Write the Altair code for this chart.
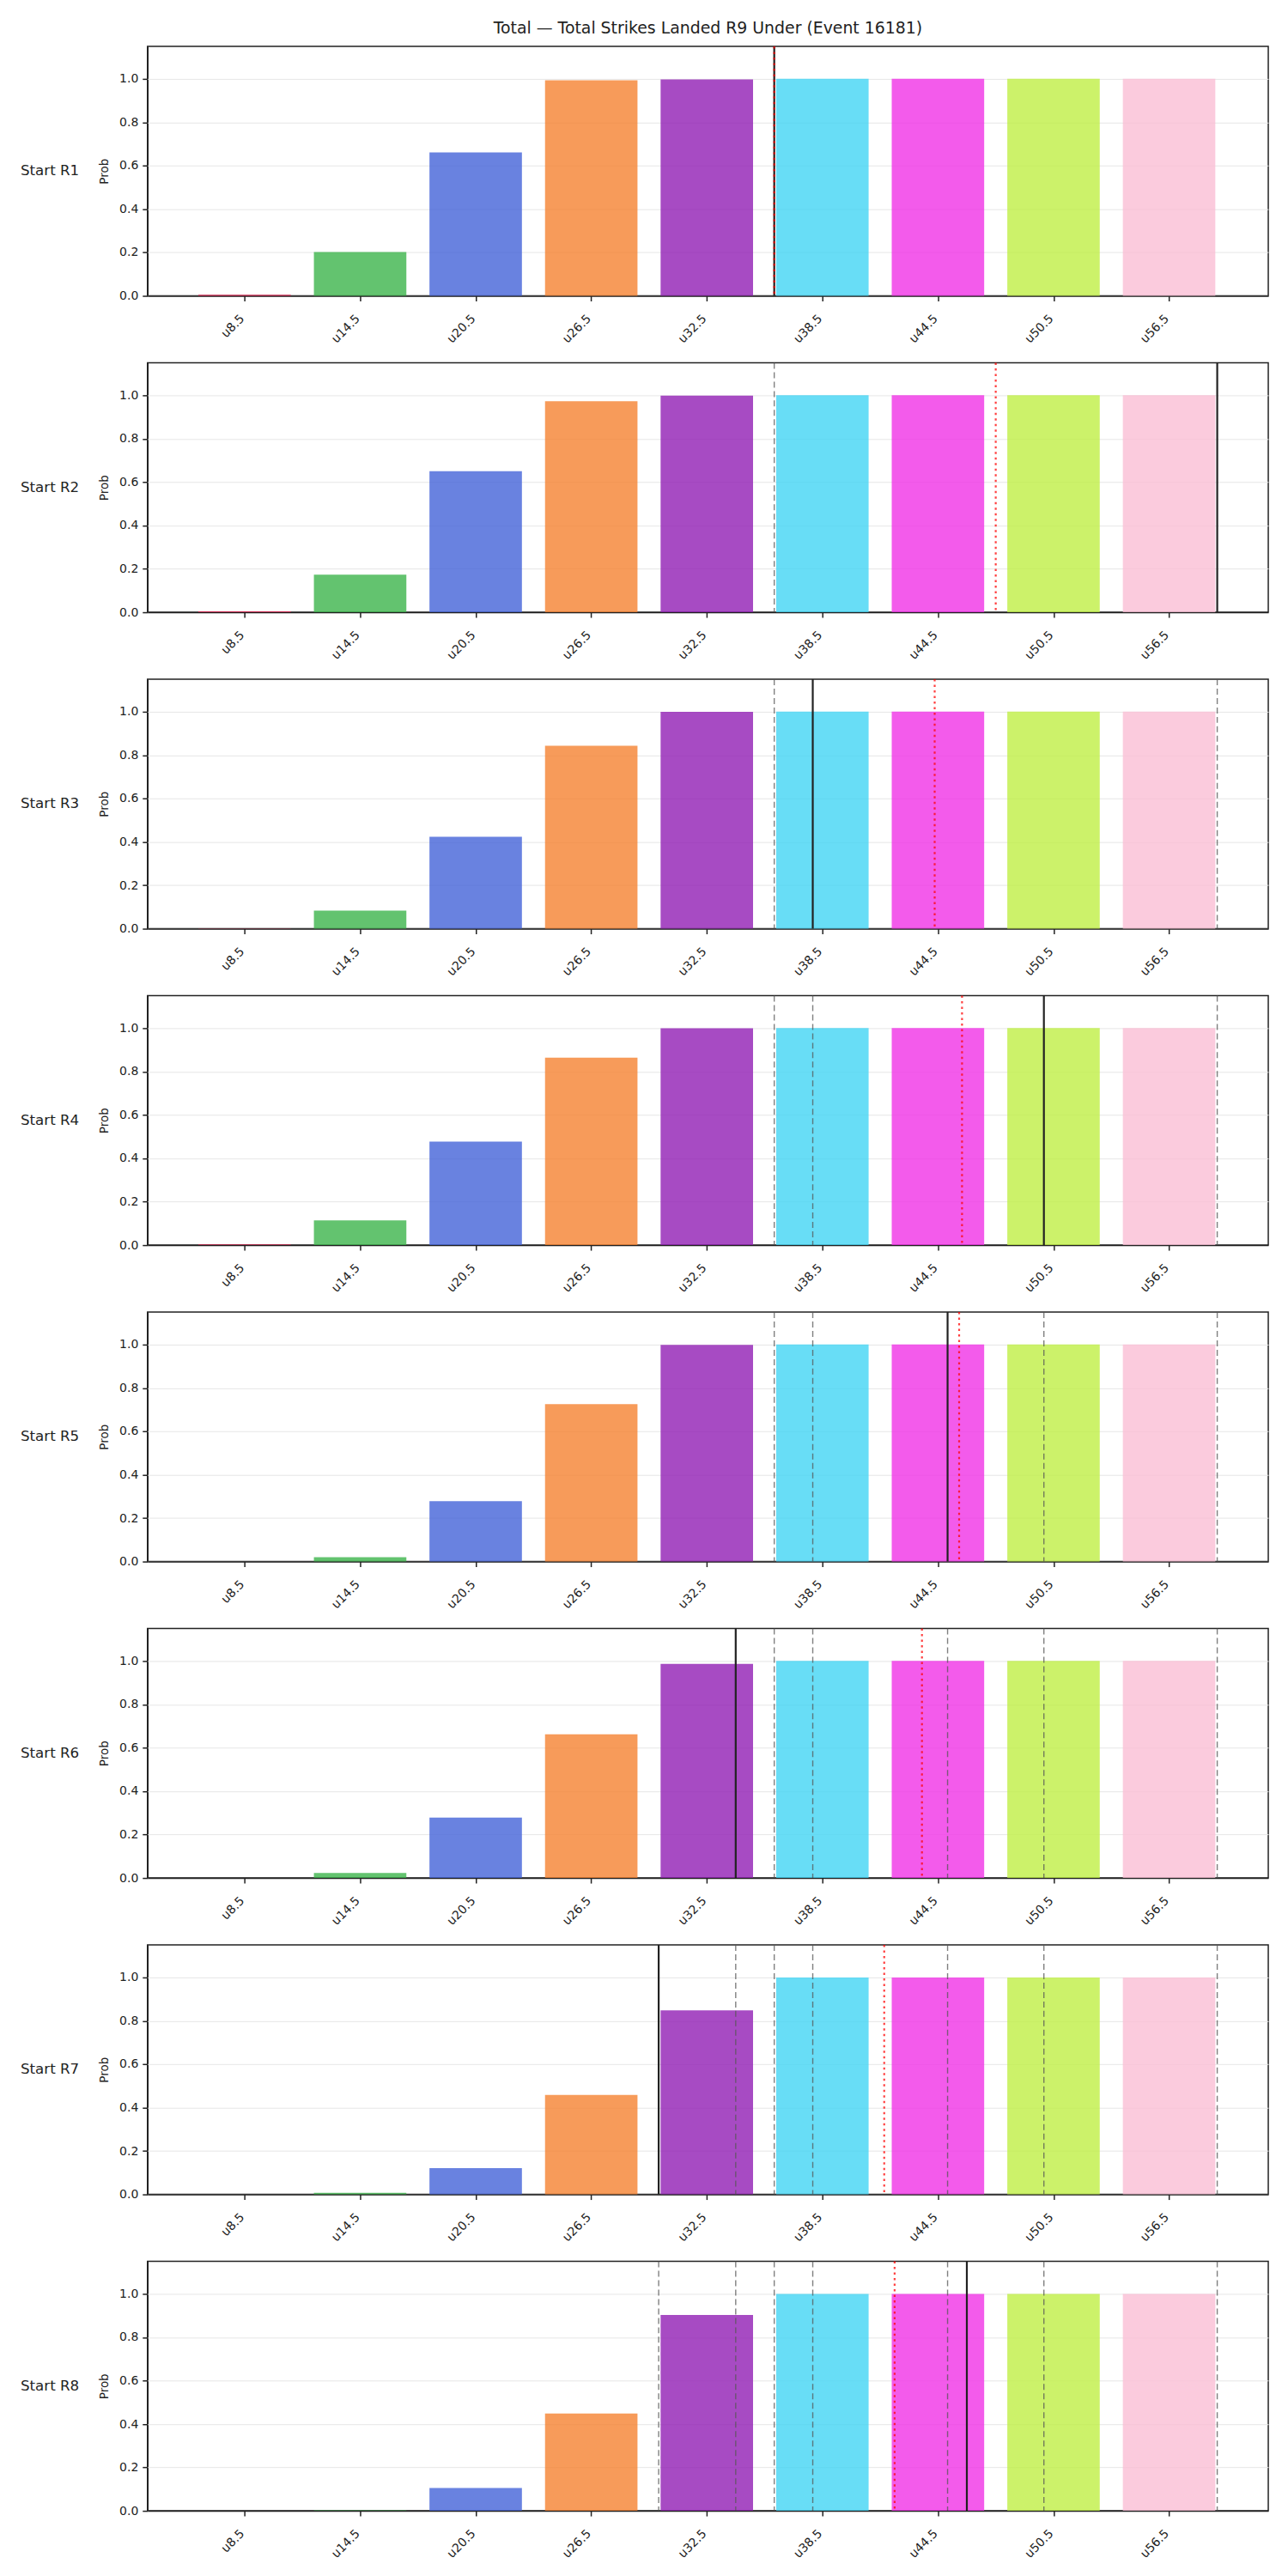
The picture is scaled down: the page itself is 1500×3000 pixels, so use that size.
import altair as alt
import pandas as pd

TITLE = "Total — Total Strikes Landed R9 Under (Event 16181)"
cats = ["u8.5", "u14.5", "u20.5", "u26.5", "u32.5", "u38.5", "u44.5", "u50.5", "u56.5"]
lines = [8.5, 14.5, 20.5, 26.5, 32.5, 38.5, 44.5, 50.5, 56.5]
colors = ["#e6194b", "#3cb44b", "#4363d8", "#f58231", "#911eb4",
          "#42d4f4", "#f032e6", "#bfef45", "#fabed4"]
rounds = ["Start R1", "Start R2", "Start R3", "Start R4",
          "Start R5", "Start R6", "Start R7", "Start R8"]

probs_r1 = [0.005, 0.202, 0.661, 0.993, 0.997, 1.0, 1.0, 1.0, 1.0]
probs_r2 = [0.004, 0.173, 0.650, 0.973, 0.998, 1.0, 1.0, 1.0, 1.0]
probs_r3 = [0.001, 0.083, 0.424, 0.843, 0.999, 1.0, 1.0, 1.0, 1.0]
probs_r4 = [0.003, 0.114, 0.477, 0.864, 0.999, 1.0, 1.0, 1.0, 1.0]
probs_r5 = [0.0005, 0.020, 0.278, 0.725, 0.998, 1.0, 1.0, 1.0, 1.0]
probs_r6 = [0.0005, 0.023, 0.278, 0.662, 0.987, 1.0, 1.0, 1.0, 1.0]
probs_r7 = [0.0, 0.007, 0.121, 0.458, 0.848, 1.0, 1.0, 1.0, 1.0]
probs_r8 = [0.0, 0.002, 0.105, 0.449, 0.903, 1.0, 1.0, 1.0, 1.0]
all_probs = [probs_r1, probs_r2, probs_r3, probs_r4,
             probs_r5, probs_r6, probs_r7, probs_r8]

# solid line: total of the current round; dashed: earlier rounds; dotted red: running mean
round_totals = [36, 59, 38, 50, 45, 34, 30, 46]
running_mean = [36.0, 47.5, 44.33, 45.75, 45.6, 43.67, 41.71, 42.25]

rows = []
for r, probs in zip(rounds, all_probs):
    for c, l, p in zip(cats, lines, probs):
        rows.append(dict(round=r, kind="bar", cat=c, line=l, prob=p))
for i, r in enumerate(rounds):
    for prev in round_totals[:i]:
        rows.append(dict(round=r, kind="prev", cat=None, line=prev, prob=None))
    rows.append(dict(round=r, kind="cur", cat=None, line=round_totals[i], prob=None))
    rows.append(dict(round=r, kind="mean", cat=None, line=running_mean[i], prob=None))
df = pd.DataFrame(rows)

FONT = "DejaVu Sans"
W, H = 1307, 291
xscale = alt.Scale(domain=[3.46, 61.65], nice=False, zero=False)
xaxis = alt.Axis(values=lines, labelExpr="'u' + format(datum.value, '.1f')",
                 labelAngle=-45, labelAlign="right", labelBaseline="alphabetic",
                 labelFontSize=14, labelPadding=21, grid=False, title=None,
                 tickSize=6, tickWidth=1.5, tickColor="#222", labelColor="#222",
                 domainColor="#222", domainWidth=1.5, labelOverlap=False)
yaxis = alt.Axis(values=[0, 0.2, 0.4, 0.6, 0.8, 1.0], format=".1f", title="Prob",
                 titleFontSize=13.5, titleFontWeight="normal", titlePadding=10,
                 titleColor="#222", labelFontSize=14, labelPadding=5,
                 tickSize=6, tickWidth=1.5, tickColor="#222",
                 labelColor="#222", domainColor="#222", domainWidth=1.5,
                 grid=True, gridColor="#e6e6e6", gridWidth=1)

bars = alt.Chart().transform_filter(alt.datum.kind == "bar").transform_calculate(
    lo="datum.line - 2.4", hi="datum.line + 2.4", base="0"
).mark_bar(opacity=0.8).encode(
    x=alt.X("lo:Q", scale=xscale, axis=xaxis),
    x2="hi:Q",
    y=alt.Y("prob:Q", scale=alt.Scale(domain=[0, 1.15], nice=False), axis=yaxis),
    y2="base:Q",
    color=alt.Color("cat:N", scale=alt.Scale(domain=cats, range=colors), legend=None),
)

prev = alt.Chart().transform_filter(alt.datum.kind == "prev").mark_rule(
    color="#555", opacity=0.75, strokeWidth=1.4, strokeDash=[7, 4]
).encode(x=alt.X("line:Q", scale=xscale, axis=xaxis))

cur = alt.Chart().transform_filter(alt.datum.kind == "cur").mark_rule(
    color="#222", strokeWidth=2.2
).encode(x=alt.X("line:Q", scale=xscale, axis=xaxis))

mean = alt.Chart().transform_filter(alt.datum.kind == "mean").mark_rule(
    color="red", opacity=0.75, strokeWidth=2.2, strokeDash=[2.5, 4]
).encode(x=alt.X("line:Q", scale=xscale, axis=xaxis))

label = alt.Chart().transform_filter(alt.datum.kind == "cur").mark_text(
    align="left", baseline="middle", fontSize=16.7, font=FONT, color="#222"
).encode(x=alt.value(-148), y=alt.value(H / 2), text="round:N")

panel = alt.layer(bars, prev, cur, mean, label, data=df).properties(width=W, height=H)

chart = panel.facet(
    row=alt.Row("round:N", sort=rounds, header=alt.Header(title=None, labels=False)),
    spacing=78, bounds="flush",
).resolve_axis(x="independent").properties(
    title=alt.TitleParams(TITLE, fontSize=18.9, font=FONT, fontWeight="normal",
                          color="#222", anchor="middle", offset=9, dx=74),
    padding={"left": 23, "top": 22, "right": 22, "bottom": 10},
).configure(font=FONT).configure_view(stroke="#222", strokeWidth=1.5)

chart.save("out.html", embed_options={"renderer": "svg", "actions": False})
